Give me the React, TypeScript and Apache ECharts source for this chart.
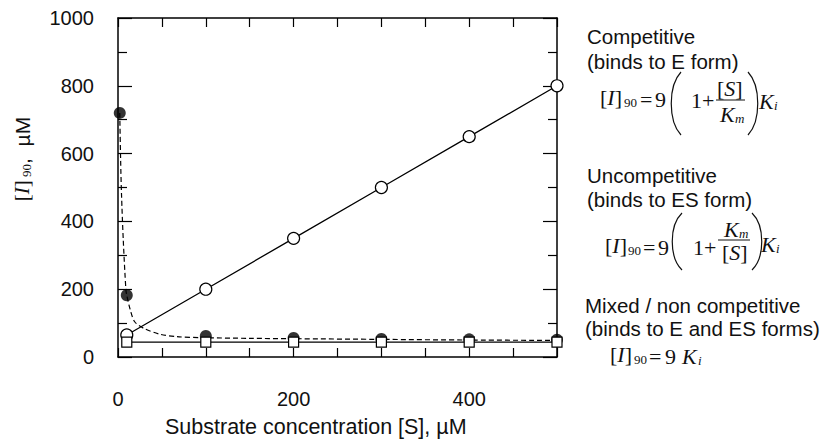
import React, { useEffect, useRef } from 'react';
import * as echarts from 'echarts';

// ---- data ----
const competitiveS = [10, 100, 200, 300, 400, 500];
const competitiveI = [65, 200, 350, 500, 650, 800];

const uncompetitiveS = [2, 10, 100, 200, 300, 400, 500];
const uncompetitiveI = [720, 182, 62, 56, 53, 52, 51];

const uncompCurveS = [2, 3, 4, 6, 9, 10, 14, 19, 29, 48, 67, 97, 150, 200, 300, 400, 500];
const uncompCurveI = [720, 580, 480, 345, 198, 182, 139, 104, 85, 67, 60, 57, 55, 54, 52, 50, 49];

const mixedS = [10, 100, 200, 300, 400, 500];
const mixedI = [44, 44, 44, 44, 44, 44];

const xLabelValues = [0, 200, 400];
const yLabelValues = [0, 200, 400, 600, 800, 1000];

const xAxisTitle = 'Substrate concentration [S], µM';

const SERIF = '"Liberation Serif", "Times New Roman", serif';
const SANS = '"Liberation Sans", Arial, Helvetica, sans-serif';
const INK = '#111';

function txt(text: string, x: number, y: number, size: number, opts: any = {}) {
  const align = opts.align || 'left';
  return {
    type: 'text',
    x,
    y,
    silent: true,
    style: {
      text,
      fill: INK,
      fontSize: size,
      fontFamily: opts.family || SERIF,
      fontStyle: opts.italic ? 'italic' : 'normal',
      align,
      textAlign: align,
      verticalAlign: 'middle',
      textVerticalAlign: 'middle',
    },
  };
}

function bracketI(x: number, y: number, size: number, letter: string) {
  return {
    type: 'text',
    x,
    y,
    silent: true,
    style: {
      text: '{a|[}{b|' + letter + '}{a|]}',
      align: 'left',
      textAlign: 'left',
      verticalAlign: 'middle',
      textVerticalAlign: 'middle',
      rich: {
        a: { fontSize: size, fontFamily: SERIF, fill: INK },
        b: { fontSize: size, fontFamily: SERIF, fontStyle: 'italic', fill: INK },
      },
    },
  };
}

function paren(x: number, top: number, bottom: number, dir: number) {
  const h = bottom - top;
  return {
    type: 'bezierCurve',
    silent: true,
    shape: {
      x1: x,
      y1: top,
      x2: x,
      y2: bottom,
      cpx1: x + dir * 13,
      cpy1: top + h * 0.22,
      cpx2: x + dir * 13,
      cpy2: bottom - h * 0.22,
    },
    style: { stroke: INK, lineWidth: 1.2, fill: null },
  };
}

function hline(x1: number, x2: number, y: number) {
  return {
    type: 'line',
    silent: true,
    shape: { x1, y1: y, x2, y2: y },
    style: { stroke: INK, lineWidth: 1 },
  };
}

function buildGraphics() {
  const g: any[] = [];
  const F = 22;
  const f = 13;
  const T = 20.5;
  g.push(txt('Competitive', 587, 36, T, { family: SANS }));
  g.push(txt('(binds to E form)', 587, 61, T, { family: SANS }));
  g.push(txt('Uncompetitive', 587, 175, T, { family: SANS }));
  g.push(txt('(binds to ES form)', 587, 199, T, { family: SANS }));
  g.push(txt('Mixed / non competitive', 585, 305, T, { family: SANS }));
  g.push(txt('(binds to E and ES forms)', 585, 328, T, { family: SANS }));

  // formula 1 : competitive
  g.push(bracketI(600, 97, F, 'I'));
  g.push(txt('90', 624, 102, f));
  g.push(txt('=', 640, 99, F));
  g.push(txt('9', 655, 99, F));
  g.push(paren(681, 72, 135, -1));
  g.push(txt('1', 691, 100, F));
  g.push(txt('+', 702, 100, F));
  g.push(bracketI(717, 88, F, 'S'));
  g.push(hline(716, 745, 100));
  g.push(txt('K', 720, 114, F, { italic: true }));
  g.push(txt('m', 735, 118, f, { italic: true }));
  g.push(paren(748, 72, 135, 1));
  g.push(txt('K', 759, 101, F, { italic: true }));
  g.push(txt('i', 774, 105, f, { italic: true }));

  // formula 2 : uncompetitive
  g.push(bracketI(605, 245, F, 'I'));
  g.push(txt('90', 628, 250, f));
  g.push(txt('=', 643, 247, F));
  g.push(txt('9', 658, 247, F));
  g.push(paren(682, 213, 270, -1));
  g.push(txt('1', 693, 247, F));
  g.push(txt('+', 704, 247, F));
  g.push(txt('K', 724, 229, F, { italic: true }));
  g.push(txt('m', 739, 233, f, { italic: true }));
  g.push(hline(718, 750, 240));
  g.push(bracketI(722, 252, F, 'S'));
  g.push(paren(752, 213, 270, 1));
  g.push(txt('K', 761, 244, F, { italic: true }));
  g.push(txt('i', 776, 248, f, { italic: true }));

  // formula 3 : mixed
  g.push(bracketI(610, 354, F, 'I'));
  g.push(txt('90', 634, 359, f));
  g.push(txt('=', 649, 356, F));
  g.push(txt('9', 665, 356, F));
  g.push(txt('K', 682, 356, F, { italic: true }));
  g.push(txt('i', 698, 360, f, { italic: true }));

  // y axis title
  g.push({
    type: 'text',
    x: 22,
    y: 159,
    rotation: Math.PI / 2,
    silent: true,
    style: {
      text: '{a|[}{b|I}{a|]}{s| 90}{c|,  µM}',
      align: 'center',
      textAlign: 'center',
      verticalAlign: 'middle',
      textVerticalAlign: 'middle',
      rich: {
        a: { fontSize: 21, fontFamily: SERIF, fill: INK },
        b: { fontSize: 21, fontFamily: SERIF, fontStyle: 'italic', fill: INK },
        s: { fontSize: 13, fontFamily: SERIF, fill: INK, verticalAlign: 'bottom' },
        c: { fontSize: 21, fontFamily: SANS, fill: INK },
      },
    },
  });

  // x axis title
  g.push(txt(xAxisTitle, 165, 427, 21.5, { family: SANS }));
  return g;
}

const pairs = (xs: number[], ys: number[]) => xs.map((x, i) => [x, ys[i]]);

export default function App() {
  const ref = useRef<HTMLDivElement>(null);
  useEffect(() => {
    if (!ref.current) return;
    const chart = echarts.init(ref.current, null, { renderer: 'svg' });
    const axisLine = { show: true, onZero: false, lineStyle: { color: '#000', width: 1.5 } };
    const xCommon = {
      type: 'value',
      min: 0,
      max: 500,
      interval: 50,
      splitLine: { show: false },
      axisLine,
      axisTick: { show: true, inside: true, length: 9, lineStyle: { color: '#000', width: 1.2 } },
    };
    const yCommon = {
      type: 'value',
      min: 0,
      max: 1000,
      interval: 200,
      splitLine: { show: false },
      axisLine,
      axisTick: { show: true, inside: true, length: 14, lineStyle: { color: '#000', width: 1.2 } },
      minorTick: { show: true, splitNumber: 2, length: 9, lineStyle: { color: '#000', width: 1.2 } },
    };
    chart.setOption({
      animation: false,
      backgroundColor: '#fff',
      grid: { left: 118, right: 270, top: 18, bottom: 85, show: false },
      xAxis: [
        {
          ...xCommon,
          position: 'bottom',
          axisLabel: {
            show: true,
            margin: 32,
            fontSize: 20,
            fontFamily: SANS,
            color: INK,
            formatter: (v: number) => (xLabelValues.indexOf(v) >= 0 ? String(v) : ''),
          },
        },
        { ...xCommon, position: 'top', axisLabel: { show: false } },
      ],
      yAxis: [
        {
          ...yCommon,
          position: 'left',
          axisLabel: {
            show: true,
            margin: 24,
            fontSize: 20,
            fontFamily: SANS,
            color: INK,
            formatter: (v: number) => (yLabelValues.indexOf(v) >= 0 ? String(v) : ''),
          },
        },
        { ...yCommon, position: 'right', axisLabel: { show: false } },
      ],
      series: [
        {
          type: 'line',
          data: pairs(uncompCurveS, uncompCurveI),
          symbol: 'none',
          showSymbol: false,
          smooth: 0.3,
          lineStyle: { color: '#000', width: 1.2, type: [5, 3] },
          silent: true,
          z: 1,
        },
        {
          type: 'scatter',
          data: pairs(uncompetitiveS, uncompetitiveI),
          symbol: 'circle',
          symbolSize: 12,
          itemStyle: { color: '#000' },
          silent: true,
          z: 2,
        },
        {
          type: 'line',
          data: pairs(competitiveS, competitiveI),
          symbol: 'circle',
          symbolSize: 12,
          showSymbol: true,
          itemStyle: { color: '#fff', borderColor: '#000', borderWidth: 1.2 },
          lineStyle: { color: '#000', width: 1.3 },
          silent: true,
          z: 3,
        },
        {
          type: 'line',
          data: pairs(mixedS, mixedI),
          symbol: 'rect',
          symbolSize: 10,
          showSymbol: true,
          itemStyle: { color: '#fff', borderColor: '#000', borderWidth: 1.2 },
          lineStyle: { color: '#000', width: 1.3 },
          silent: true,
          z: 4,
        },
      ],
      graphic: buildGraphics(),
    });
    return () => chart.dispose();
  }, []);
  return (
    <div
      ref={ref}
      style={{ position: 'fixed', left: 0, top: 0, width: 827, height: 442, background: '#fff' }}
    />
  );
}
